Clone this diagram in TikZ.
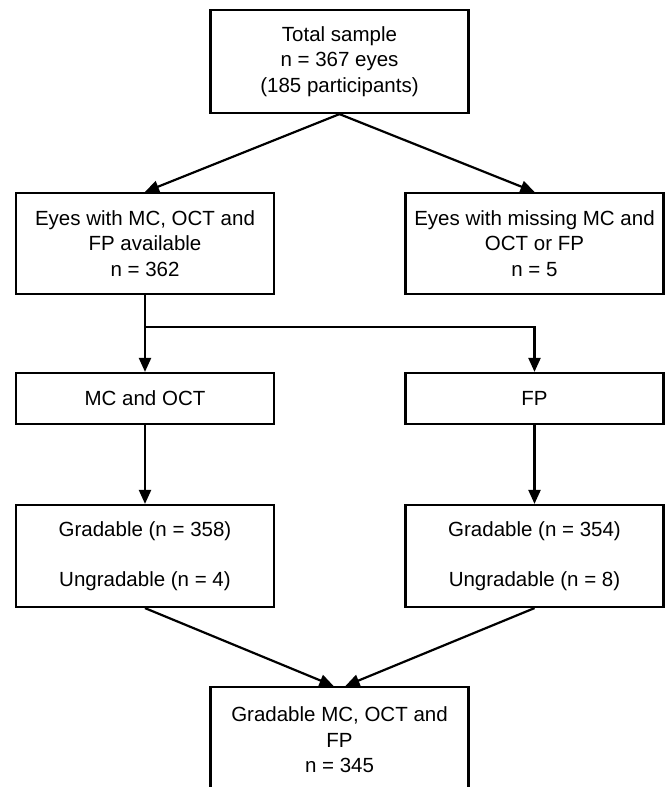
\documentclass[tikz,border=0pt]{standalone}
\usepackage{fontspec}
\setmainfont{Liberation Sans}
\usetikzlibrary{arrows.meta}
\begin{document}
\begin{tikzpicture}[x=1pt,y=-1pt,
    box/.style={draw, line width=2.2pt, minimum width=258pt, align=center,
        inner sep=0pt, font=\fontsize{20.5}{25.5}\selectfont},
    arr/.style={-{Triangle[length=14pt,width=12pt]}, line width=2.2pt}]
    \useasboundingbox (0,0) rectangle (667,787);
    \node[box, minimum height=103pt] (total) at (339.5,61.5)
        {Total sample\\ n = 367 eyes\\ (185 participants)};
    \node[box, minimum height=101pt] (avail) at (145,243.5)
        {Eyes with MC, OCT and\\ FP available\\ n = 362};
    \node[box, minimum height=101pt] (missing) at (534.5,243.5)
        {Eyes with missing MC and\\ OCT or FP\\ n = 5};
    \node[box, minimum height=51pt] (mcoct) at (145,398.5) {MC and OCT};
    \node[box, minimum height=51pt] (fp) at (534.5,398.5) {FP};
    \node[box, minimum height=102pt] (gradmc) at (145,556)
        {Gradable (n = 358)\\[24pt] Ungradable (n = 4)};
    \node[box, minimum height=102pt] (gradfp) at (534.5,556)
        {Gradable (n = 354)\\[24pt] Ungradable (n = 8)};
    \node[box, minimum height=106pt] (final) at (339.5,740)
        {Gradable MC, OCT and\\ FP\\ n = 345};
    \coordinate (split) at (145,327);
    \draw[arr](total.south)--(avail.north);
    \draw[arr](total.south)--(missing.north);
    \draw[arr](avail.south)--(mcoct.north);
    \draw[arr](split)-|(fp.north);
    \draw[arr](mcoct.south)--(gradmc.north);
    \draw[arr](fp.south)--(gradfp.north);
    \draw[arr](gradmc.south)--([xshift=-6pt]final.north);
    \draw[arr](gradfp.south)--([xshift=6pt]final.north);
\end{tikzpicture}
\end{document}
